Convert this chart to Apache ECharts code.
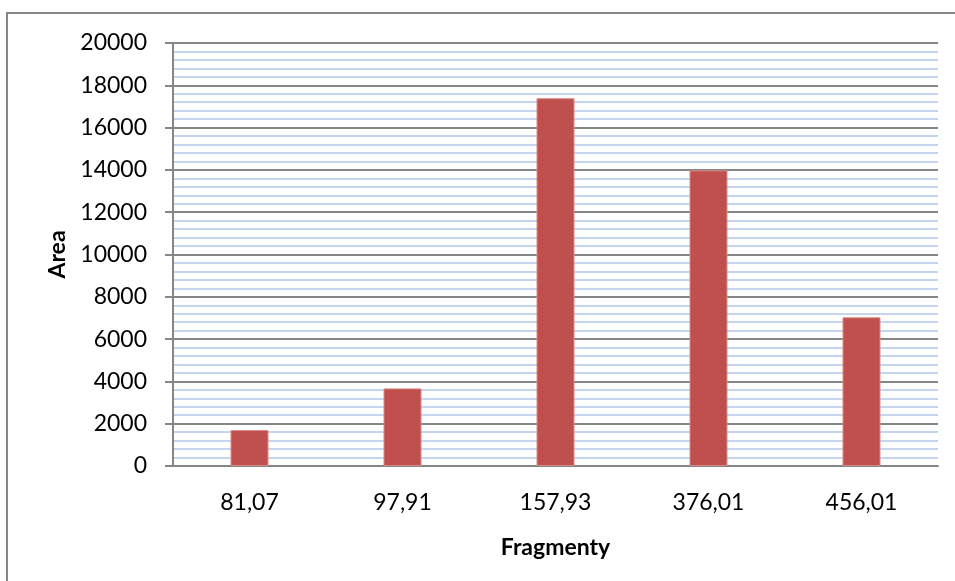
<!DOCTYPE html>
<html>
<head>
<meta charset="utf-8">
<script src="https://cdn.jsdelivr.net/npm/echarts@6/dist/echarts.min.js"></script>
<style>
  html, body { margin: 0; padding: 0; background: #fff; }
  #chart { width: 955px; height: 581px; }
</style>
</head>
<body>
<div id="chart"></div>
<script>
// Fragment masses and their peak areas
const fragments = ['81,07', '97,91', '157,93', '376,01', '456,01'];
const areas = [1700, 3670, 17390, 13980, 7030];
const xTitle = 'Fragmenty';
const yTitle = 'Area';

const FONT = 'Lato, "Open Sans", sans-serif';

const chart = echarts.init(document.getElementById('chart'), null, { renderer: 'canvas' });
chart.setOption({
  animation: false,
  backgroundColor: '#ffffff',
  graphic: [{
    type: 'rect',
    shape: { x: 7, y: 13, width: 1200, height: 1200 },
    style: { fill: 'none', stroke: '#868686', lineWidth: 2 },
    z: 100
  }],
  grid: { left: 173, right: 17, top: 43, bottom: 115, containLabel: false },
  xAxis: {
    type: 'category',
    data: fragments,
    name: xTitle,
    nameLocation: 'middle',
    nameGap: 70,
    nameTextStyle: { fontFamily: FONT, fontSize: 23, fontWeight: 'bold', color: '#000' },
    axisLine: { show: true, lineStyle: { color: '#868686', width: 2 } },
    axisTick: { show: false },
    axisLabel: { fontFamily: FONT, fontSize: 23, color: '#000', margin: 25 },
    splitLine: { show: false }
  },
  yAxis: {
    type: 'value',
    min: 0,
    max: 20000,
    interval: 2000,
    name: yTitle,
    nameLocation: 'middle',
    nameGap: 104,
    nameRotate: 90,
    nameTextStyle: { fontFamily: FONT, fontSize: 23, fontWeight: 'bold', color: '#000' },
    axisLine: { show: true, lineStyle: { color: '#868686', width: 2 } },
    axisTick: { show: true, length: 8, lineStyle: { color: '#868686', width: 2 } },
    axisLabel: { fontFamily: FONT, fontSize: 23, color: '#000', margin: 26, formatter: v => String(v) },
    splitLine: { show: true, lineStyle: { color: '#868686', width: 2 } },
    minorTick: { show: false, splitNumber: 5 },
    minorSplitLine: { show: true, lineStyle: { color: '#B3C7EA', width: 1.5 } }
  },
  series: [{
    type: 'bar',
    data: areas,
    barWidth: 38,
    itemStyle: { color: '#C0504D', borderColor: '#D88A88', borderWidth: 1 },
    z: 3
  }]
});
</script>
</body>
</html>
